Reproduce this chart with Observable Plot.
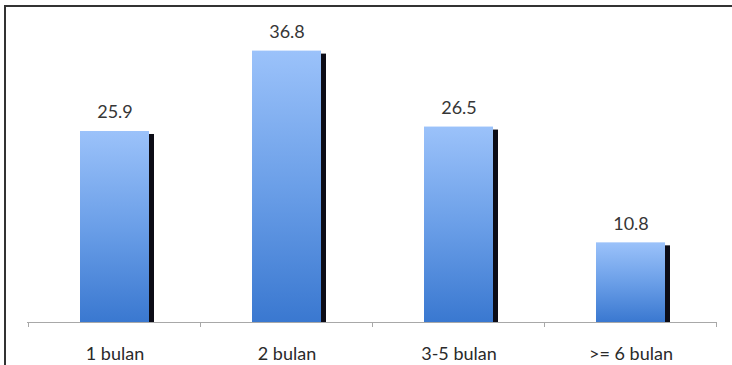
<!DOCTYPE html>
<html>
<head>
<meta charset="utf-8">
<script src="https://cdn.jsdelivr.net/npm/d3@7"></script>
<script src="https://cdn.jsdelivr.net/npm/@observablehq/plot@0.6"></script>
<style>
html, body { margin: 0; padding: 0; background: #fff; }
#wrap { position: relative; width: 732px; height: 365px; overflow: hidden; }
#wrap svg { position: absolute; left: 0; top: 0; }
#border { position: absolute; left: 4px; top: 5px; right: 0; bottom: 0;
  border-top: 2px solid #333; border-left: 2px solid #333; pointer-events: none; }
</style>
</head>
<body>
<div id="wrap"><div id="border"></div></div>
<script>
const categories = ["1 bulan", "2 bulan", "3-5 bulan", ">= 6 bulan"];
const values = [25.9, 36.8, 26.5, 10.8];
const valueLabels = ["25.9", "36.8", "26.5", "10.8"];

const data = categories.map((c, i) => ({category: c, value: values[i], label: valueLabels[i]}));

const NS = "http://www.w3.org/2000/svg";

function gradientDefs() {
  const defs = document.createElementNS(NS, "defs");
  const lg = document.createElementNS(NS, "linearGradient");
  lg.setAttribute("id", "barGrad");
  lg.setAttribute("x1", "0"); lg.setAttribute("y1", "0");
  lg.setAttribute("x2", "0"); lg.setAttribute("y2", "1");
  [["0%", "#9bc2fa"], ["50%", "#6b9fe8"], ["100%", "#3a78d0"]].forEach(([o, c]) => {
    const s = document.createElementNS(NS, "stop");
    s.setAttribute("offset", o);
    s.setAttribute("stop-color", c);
    lg.appendChild(s);
  });
  defs.appendChild(lg);
  return defs;
}

function boundaryTicks(index, scales, values, dims) {
  const x = scales.x, y = scales.y;
  const bw = typeof x.bandwidth === "function" ? x.bandwidth() : x.bandwidth;
  const step = x(categories[1]) - x(categories[0]);
  const gap = (step - bw) / 2;
  const xs = categories.map(c => x(c) - gap);
  xs.push(x(categories[categories.length - 1]) + bw + gap);
  const y0 = y(0);
  const g = document.createElementNS(NS, "g");
  g.setAttribute("stroke", "#a8a8a8");
  for (const px of xs) {
    const l = document.createElementNS(NS, "line");
    l.setAttribute("x1", px); l.setAttribute("x2", px);
    l.setAttribute("y1", y0); l.setAttribute("y2", y0 + 5);
    g.appendChild(l);
  }
  return g;
}

const chart = Plot.plot({
  width: 732,
  height: 365,
  marginLeft: 27,
  marginRight: 15,
  marginTop: 27,
  marginBottom: 43,
  style: {fontFamily: "Lato, sans-serif", fontSize: "18px", color: "#333", background: "transparent"},
  x: {domain: categories, paddingInner: 0.6, paddingOuter: 0.3, axis: null},
  y: {domain: [0, 40], axis: null},
  marks: [
    gradientDefs,
    Plot.barY(data, {x: "category", y: "value", fill: "#0c0c16", dx: 5, insetTop: 3}),
    Plot.barY(data, {x: "category", y: "value", fill: "url(#barGrad)"}),
    Plot.ruleY([0], {stroke: "#a8a8a8"}),
    boundaryTicks,
    Plot.axisX({tickSize: 0, tickPadding: 25, fontSize: 18, fill: "#2a2a2a", label: null}),
    Plot.text(data, {x: "category", y: "value", text: "label", dy: -19, lineAnchor: "middle", fontSize: 18, fill: "#363636"})
  ]
});
document.getElementById("wrap").insertBefore(chart, document.getElementById("border"));
</script>
</body>
</html>
